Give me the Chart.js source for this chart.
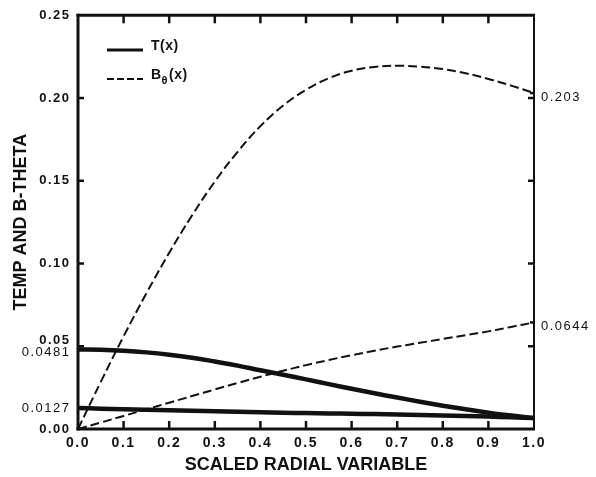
<!DOCTYPE html>
<html>
<head>
<meta charset="utf-8">
<script src="https://cdn.jsdelivr.net/npm/chart.js@4/dist/chart.umd.min.js"></script>
<style>
  html, body { margin: 0; padding: 0; background: #fff; }
  canvas { display: block; }
</style>
</head>
<body>
<canvas id="grafico" width="596" height="477"></canvas>
<script>
// values
const xValues = [0, 0.05, 0.1, 0.15, 0.2, 0.25, 0.3, 0.35, 0.4, 0.45, 0.5, 0.55, 0.6, 0.65, 0.7, 0.75, 0.8, 0.85, 0.9, 0.95, 1.0];
const tempUpper = [0.0481, 0.0479, 0.0473, 0.0463, 0.0449, 0.0431, 0.0408, 0.0383, 0.0355, 0.0328, 0.0300, 0.0271, 0.0243, 0.0216, 0.0190, 0.0165, 0.0141, 0.0119, 0.0099, 0.0081, 0.0066];
const tempLower = [0.0127, 0.0123, 0.0119, 0.0116, 0.0113, 0.0110, 0.0107, 0.0104, 0.0101, 0.0098, 0.0096, 0.0094, 0.0092, 0.0090, 0.0088, 0.0085, 0.0082, 0.0079, 0.0075, 0.0071, 0.0066];
const bThetaUpper = [0, 0.0285, 0.0560, 0.0820, 0.1065, 0.1290, 0.1495, 0.1675, 0.1830, 0.1955, 0.2050, 0.2120, 0.2165, 0.2188, 0.2195, 0.2190, 0.2175, 0.2150, 0.2115, 0.2075, 0.2030];
const bThetaLower = [0, 0.0039, 0.0079, 0.0119, 0.0159, 0.0199, 0.0239, 0.0278, 0.0316, 0.0352, 0.0386, 0.0417, 0.0446, 0.0473, 0.0498, 0.0521, 0.0544, 0.0567, 0.0590, 0.0617, 0.0644];

const seriesNames = ['T(x)', 'Bθ(x)'];
const xTicks = [0, 0.1, 0.2, 0.3, 0.4, 0.5, 0.6, 0.7, 0.8, 0.9, 1.0];
const yMainTicks = [0, 0.05, 0.10, 0.15, 0.20, 0.25];
const yMarkedTicks = [0.0127, 0.0481];
const yRightTicks = [0.0644, 0.203];

const xTitle = 'SCALED RADIAL VARIABLE';
const yTitle = 'TEMP AND B-THETA';

const INK = '#111';
const FAMILY = "'Liberation Sans', Arial, Helvetica, sans-serif";
Chart.defaults.font.family = FAMILY;
Chart.defaults.color = INK;

const same = (a, b) => Math.abs(a - b) < 1e-9;
const isMain = (v) => yMainTicks.some(t => same(t, v));
const pontos = (ys) => xValues.map((x, i) => ({ x: x, y: ys[i] }));

function linha(ctx, x1, y1, x2, y2) {
  ctx.beginPath();
  ctx.moveTo(x1, y1);
  ctx.lineTo(x2, y2);
  ctx.stroke();
}

// spacing for the wide tick labels (labels are drawn after datasets, z = 1)
const espacamento = {
  id: 'espacamento',
  beforeDraw(chart) {
    const ctx = chart.ctx;
    ctx.save();
    ctx.fillStyle = '#fff';
    ctx.fillRect(0, 0, chart.width, chart.height);
    ctx.restore();
    ctx.letterSpacing = '0px';
  },
  afterDatasetsDraw(chart) {
    chart.ctx.letterSpacing = '1.5px';
  }
};

// frame, inward ticks and legend
const moldura = {
  id: 'moldura',
  afterDraw(chart) {
    const { ctx, chartArea: a, scales } = chart;
    ctx.save();
    ctx.letterSpacing = '0px';
    ctx.strokeStyle = INK;
    ctx.lineCap = 'butt';

    ctx.lineWidth = 3;
    linha(ctx, a.left, a.top - 1.5, a.left, a.bottom + 1.5);
    linha(ctx, a.left - 1.5, a.bottom, a.right + 1, a.bottom);
    linha(ctx, a.left - 1.5, a.top, a.right + 1, a.top);
    ctx.lineWidth = 2;
    linha(ctx, a.right, a.top, a.right, a.bottom);

    ctx.lineWidth = 2.5;
    xTicks.forEach(v => {
      if (same(v, 0) || same(v, 1)) return;
      const px = scales.x.getPixelForValue(v);
      linha(ctx, px, a.bottom, px, a.bottom - 8);
      linha(ctx, px, a.top, px, a.top + 8);
    });
    yMainTicks.forEach(v => {
      if (same(v, 0) || same(v, 0.25)) return;
      const py = scales.y.getPixelForValue(v);
      linha(ctx, a.left, py, a.left + 6, py);
      linha(ctx, a.right, py, a.right - 6, py);
    });
    yRightTicks.forEach(v => {
      const py = scales.y.getPixelForValue(v);
      linha(ctx, a.right, py, a.right - 4, py);
    });

    // legend
    const lx1 = a.left + 29, lx2 = a.left + 65, tx = a.left + 73;
    ctx.lineWidth = 3;
    linha(ctx, lx1, 50, lx2, 50);
    ctx.lineWidth = 2;
    ctx.setLineDash([7, 3]);
    linha(ctx, lx1, 79, lx2, 79);
    ctx.setLineDash([]);

    ctx.fillStyle = INK;
    ctx.textBaseline = 'middle';
    ctx.textAlign = 'left';
    ctx.letterSpacing = '0.5px';
    ctx.font = 'bold 14px ' + FAMILY;
    ctx.fillText(seriesNames[0], tx, 46);

    const [antes, depois] = seriesNames[1].split('θ');
    ctx.fillText(antes, tx, 75);
    let cx = tx + ctx.measureText(antes).width;
    ctx.font = 'bold 11px ' + FAMILY;
    ctx.fillText('θ', cx, 81);
    cx += ctx.measureText('θ').width + 1;
    ctx.font = 'bold 14px ' + FAMILY;
    ctx.fillText(depois, cx, 75);
    ctx.restore();
  }
};

const ctx = document.getElementById('grafico').getContext('2d');

const dados = {
  datasets: [
    { label: seriesNames[0], data: pontos(tempUpper), borderColor: INK, borderWidth: 4.5 },
    { label: seriesNames[0], data: pontos(tempLower), borderColor: INK, borderWidth: 4.5 },
    { label: seriesNames[1], data: pontos(bThetaUpper), borderColor: INK, borderWidth: 2, borderDash: [9, 4] },
    { label: seriesNames[1], data: pontos(bThetaLower), borderColor: INK, borderWidth: 2, borderDash: [9, 4] }
  ]
};

const config = {
  type: 'line',
  data: dados,
  options: {
    responsive: false,
    animation: false,
    devicePixelRatio: 1,
    layout: { padding: { top: 15, left: 0, right: 0, bottom: 0 } },
    elements: {
      point: { radius: 0 },
      line: { tension: 0.4, borderCapStyle: 'butt', fill: false }
    },
    scales: {
      x: {
        type: 'linear',
        min: 0,
        max: 1,
        grid: { display: false, drawTicks: false },
        border: { display: false },
        afterBuildTicks: (scale) => { scale.ticks = xTicks.map(v => ({ value: v })); },
        afterFit: (scale) => { scale.height = 48; },
        ticks: {
          z: 1,
          padding: 6,
          autoSkip: false,
          maxRotation: 0,
          color: INK,
          font: { size: 14, weight: 'bold' },
          callback: (value) => value.toFixed(1)
        },
        title: {
          display: true,
          text: xTitle,
          color: INK,
          font: { size: 18, weight: 'bold' },
          padding: { top: 0, bottom: 1 }
        }
      },
      y: {
        type: 'linear',
        position: 'left',
        min: 0,
        max: 0.25,
        grid: { display: false, drawTicks: false },
        border: { display: false },
        afterBuildTicks: (scale) => {
          scale.ticks = [...yMainTicks, ...yMarkedTicks].sort((a, b) => a - b).map(v => ({ value: v }));
        },
        afterFit: (scale) => { scale.width = 78; },
        ticks: {
          z: 1,
          padding: 7.5,
          autoSkip: false,
          color: INK,
          font: (c) => {
            const v = c.tick ? c.tick.value : 0;
            if (same(v, 0.05)) return { size: 13, weight: 'bold', lineHeight: '11px' };
            if (same(v, 0.0481)) return { size: 13, weight: 'normal', lineHeight: '7px' };
            if (isMain(v)) return { size: 13, weight: 'bold' };
            return { size: 13, weight: 'normal' };
          },
          callback: (value) => {
            // the 0.05 and 0.0481 labels sit apart in the figure
            if (same(value, 0.05)) return [value.toFixed(2), ''];
            if (same(value, 0.0481)) return ['', String(value)];
            return isMain(value) ? value.toFixed(2) : String(value);
          }
        },
        title: {
          display: true,
          text: yTitle,
          color: INK,
          font: { size: 18, weight: 'bold' },
          padding: { top: 10, bottom: 0 }
        }
      },
      yRight: {
        type: 'linear',
        position: 'right',
        min: 0,
        max: 0.25,
        grid: { display: false, drawTicks: false },
        border: { display: false },
        afterBuildTicks: (scale) => { scale.ticks = yRightTicks.map(v => ({ value: v })); },
        afterFit: (scale) => { scale.width = 62; },
        ticks: {
          z: 1,
          padding: 7,
          autoSkip: false,
          color: INK,
          font: { size: 13, weight: 'normal', lineHeight: '8px' },
          callback: (value) => ['', String(value)]
        }
      }
    },
    plugins: {
      legend: { display: false },
      tooltip: { enabled: false }
    }
  },
  plugins: [espacamento, moldura]
};

new Chart(ctx, config);
</script>
</body>
</html>
